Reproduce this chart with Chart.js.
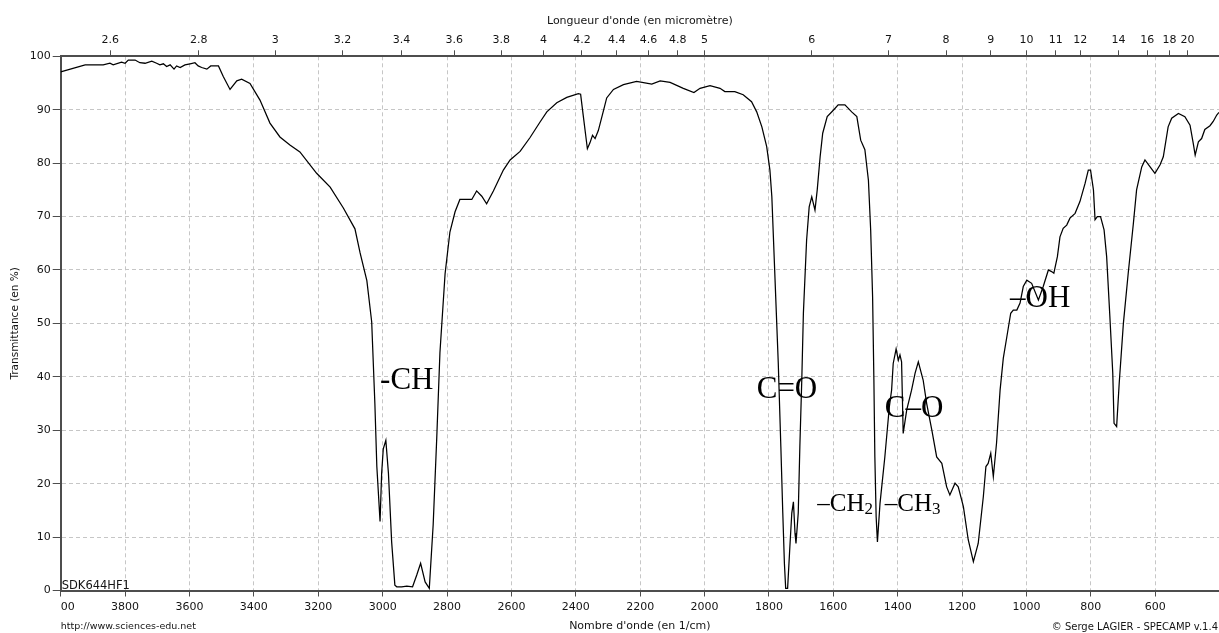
<!DOCTYPE html>
<html><head><meta charset="utf-8">
<script src="https://cdn.jsdelivr.net/npm/chart.js@4.4.1/dist/chart.umd.min.js"></script>
<style>html,body{margin:0;padding:0;background:#fff;overflow:hidden}</style>
</head><body>
<canvas id="c" width="1219" height="633"></canvas>
<script>
const wavenumbers = [
 4000,3924,3868,3847,3837,3811,3800,3790,3769,3754,
 3738,3717,3702,3692,3681,3671,3660,3648,3640,3629,
 3614,3598,3583,3573,3562,3546,3534,3510,3495,3474,
 3453,3438,3412,3381,3350,3319,3288,3257,3205,3163,
 3122,3086,3070,3049,3034,3024,3018,3008,3003,2998,
 2990,2982,2972,2962,2956,2941,2925,2907,2894,2882,
 2868,2855,2843,2832,2822,2806,2791,2775,2760,2744,
 2723,2708,2692,2677,2656,2625,2604,2573,2542,2511,
 2490,2459,2428,2392,2385,2377,2364,2356,2348,2340,
 2330,2315,2304,2283,2252,2211,2164,2138,2107,2066,
 2033,2014,1983,1952,1937,1906,1880,1854,1838,1822,
 1807,1797,1791,1781,1771,1763,1757,1752,1748,1742,
 1735,1729,1724,1719,1716,1709,1704,1698,1693,1683,
 1675,1667,1657,1650,1641,1633,1619,1600,1585,1564,
 1543,1527,1515,1502,1491,1484,1478,1474,1471,1467,
 1463,1455,1440,1426,1419,1414,1405,1398,1393,1388,
 1383,1372,1357,1346,1336,1321,1310,1294,1279,1263,
 1248,1238,1222,1212,1196,1181,1165,1150,1134,1126,
 1119,1111,1103,1093,1082,1072,1061,1049,1041,1030,
 1020,1010,999,984,963,948,932,922,915,904,
 896,886,875,865,849,834,818,808,801,792,
 787,780,770,759,751,741,732,728,720,712,
 699,684,668,658,642,632,616,601,585,575,
 560,549,528,508,492,482,476,466,456,446,
 430,420,409,402
];
// Transmittance (%) at each wavenumber
const transmittance = [
 97.1,98.4,98.4,98.7,98.4,98.9,98.7,99.3,99.3,98.8,
 98.7,99.1,98.7,98.4,98.6,98.1,98.4,97.6,98.2,97.9,
 98.4,98.6,98.8,98.2,97.9,97.6,98.2,98.2,96.2,93.8,
 95.4,95.7,94.9,91.8,87.5,84.9,83.4,82.1,78.1,75.5,
 71.6,67.7,63.2,58.0,50.3,34.8,23.2,12.9,22.0,26.5,
 28.1,22.0,9.1,1.0,0.7,0.7,0.8,0.7,2.9,5.1,
 1.6,0.4,12.3,28.4,44.5,59.3,67.1,70.9,73.2,73.2,
 73.2,74.8,73.8,72.4,74.8,78.7,80.6,82.2,84.8,87.7,
 89.6,91.3,92.3,93.0,92.9,89.0,82.7,83.8,85.2,84.6,
 86.1,89.6,92.2,93.8,94.7,95.3,94.8,95.4,95.1,94.0,
 93.2,94.0,94.5,94.0,93.4,93.4,92.8,91.5,89.6,86.8,
 83.1,78.7,73.7,58.1,42.5,26.9,14.5,5.1,0.4,0.4,
 8.2,14.5,16.6,10.7,8.8,14.5,26.9,39.4,51.9,65.6,
 71.8,73.7,71.2,75.0,81.2,85.6,88.7,89.9,90.9,90.9,
 89.6,88.7,84.3,82.5,76.8,67.5,55.0,39.4,25.0,13.8,
 9.1,16.3,25.0,34.4,37.5,42.5,45.2,43.1,44.1,42.8,
 29.4,33.8,37.5,40.7,42.8,39.4,35.0,30.0,25.0,23.8,
 19.4,17.9,20.1,19.4,15.7,9.5,5.4,8.8,17.6,23.2,
 23.8,25.7,21.3,27.6,37.5,43.5,47.5,51.9,52.5,52.5,
 53.8,56.9,58.1,57.5,54.4,56.9,60.0,59.7,59.4,62.5,
 66.2,67.8,68.4,69.7,70.6,72.8,76.2,78.7,78.7,75.0,
 69.4,70.0,70.0,67.5,62.5,51.3,40.7,31.3,30.7,38.8,
 50.0,59.4,68.7,75.0,79.3,80.6,79.3,78.1,79.7,81.2,
 86.8,88.4,89.3,88.7,87.1,83.7,81.5,84.0,84.6,86.3,
 87.0,87.8,89.0,89.5
];
// Bottom axis tick labels (cm-1)
const wavenumberTicks = [4000,3800,3600,3400,3200,3000,2800,2600,2400,2200,2000,1800,1600,1400,1200,1000,800,600];
// Top axis tick labels (micrometres)
const wavelengthTicks = [2.6,2.8,3,3.2,3.4,3.6,3.8,4,4.2,4.4,4.6,4.8,5,6,7,8,9,10,11,12,14,16,18,20];
// Band annotations: text, anchor wavenumber, anchor transmittance (baseline)
const bandLabels   = ['-CH', 'C=O', 'C\u2013O', '\u2013OH', '\u2013CH', '\u2013CH'];
const bandSubs     = ['', '', '', '', '2', '3'];
const bandWn       = [3008, 1838, 1440, 1051, 1650, 1440];
const bandT        = [37.7, 36.0, 32.4, 53.1, 14.9, 14.9];
const bandSize     = [31, 31, 31, 31, 25, 25];

const AX = '#4d4d4d', GRID = '#c6c6c6', TXT = '#141414';
const tickFont = {family: 'DejaVu Sans', size: 11};

const textPlugin = {
  id: 'texts',
  afterDatasetsDraw(chart) {
    const {ctx, chartArea, scales} = chart;
    const x = scales.x, y = scales.y;
    ctx.save();
    ctx.fillStyle = '#000';
    ctx.textAlign = 'left';
    ctx.textBaseline = 'alphabetic';
    bandLabels.forEach((t, i) => {
      const px = x.getPixelForValue(bandWn[i]);
      const py = y.getPixelForValue(bandT[i]);
      ctx.font = bandSize[i] + 'px "Liberation Serif"';
      ctx.fillText(t, px, py);
      if (bandSubs[i]) {
        const w = ctx.measureText(t).width;
        ctx.font = Math.round(bandSize[i] * 0.68) + 'px "Liberation Serif"';
        ctx.fillText(bandSubs[i], px + w, py + bandSize[i] * 0.14);
      }
    });
    ctx.fillStyle = TXT;
    ctx.font = '11.5px "DejaVu Sans"';
    ctx.fillText('SDK644HF1', chartArea.left + 1, chartArea.bottom - 2);
    ctx.textBaseline = 'middle';
    ctx.font = '9.5px "DejaVu Sans"';
    ctx.fillText('http://www.sciences-edu.net', chartArea.left, 627);
    ctx.textAlign = 'right';
    ctx.font = '10px "DejaVu Sans"';
    ctx.fillText('\u00A9 Serge LAGIER - SPECAMP v.1.4', chart.width - 1, 627);
    ctx.restore();
  }
};

new Chart(document.getElementById('c'), {
  type: 'line',
  data: {
    datasets: [{
      data: wavenumbers.map((w, i) => ({x: w, y: transmittance[i]})),
      borderColor: '#000', borderWidth: 1.25, pointRadius: 0, tension: 0, fill: false,
      xAxisID: 'x', yAxisID: 'y'
    }]
  },
  options: {
    responsive: false, animation: false, events: [],
    layout: {padding: 0},
    plugins: {legend: {display: false}, tooltip: {enabled: false}},
    scales: {
      x: {
        type: 'linear', position: 'bottom', reverse: true, min: 402, max: 4000,
        afterBuildTicks: s => { s.ticks = wavenumberTicks.map(v => ({value: v})); },
        afterFit: s => { s.height = 42.5; },
        ticks: {autoSkip: false, maxRotation: 0, minRotation: 0, padding: 4, color: TXT, font: tickFont,
          callback: v => v === 4000 ? '\u2007\u200700' : String(v)},
        grid: {color: GRID, lineWidth: 1, tickLength: 6, tickColor: AX, drawTicks: true},
        border: {color: AX, width: 2, dash: [4, 3]},
        title: {display: true, text: "Nombre d'onde (en 1/cm)", color: TXT, font: tickFont, padding: {top: 0, bottom: 0}}
      },
      xTop: {
        type: 'linear', position: 'top', reverse: true, min: 402, max: 4000,
        afterBuildTicks: s => { s.ticks = wavelengthTicks.map(l => ({value: 10000 / l})); },
        afterFit: s => { s.height = 56.3; },
        ticks: {autoSkip: false, maxRotation: 0, minRotation: 0, padding: 4, color: TXT, font: tickFont,
          callback: (v, i) => String(wavelengthTicks[i])},
        grid: {drawOnChartArea: false, tickLength: 6, color: AX, tickColor: AX},
        border: {color: AX, width: 2},
        title: {display: true, text: "Longueur d'onde (en micromètre)", color: TXT, font: tickFont, padding: {top: 15, bottom: 0}}
      },
      y: {
        min: 0, max: 100,
        afterFit: s => { s.width = 60.7; },
        ticks: {stepSize: 10, padding: 2, color: TXT, font: tickFont},
        grid: {color: GRID, lineWidth: 1, tickLength: 8, tickColor: AX},
        border: {color: AX, width: 2, dash: [4, 3]},
        title: {display: true, text: 'Transmittance (en %)', color: TXT, font: {family: 'DejaVu Sans', size: 10.5}, padding: {top: 9.4, bottom: 0}}
      }
    }
  },
  plugins: [textPlugin]
});
</script>
</body></html>
